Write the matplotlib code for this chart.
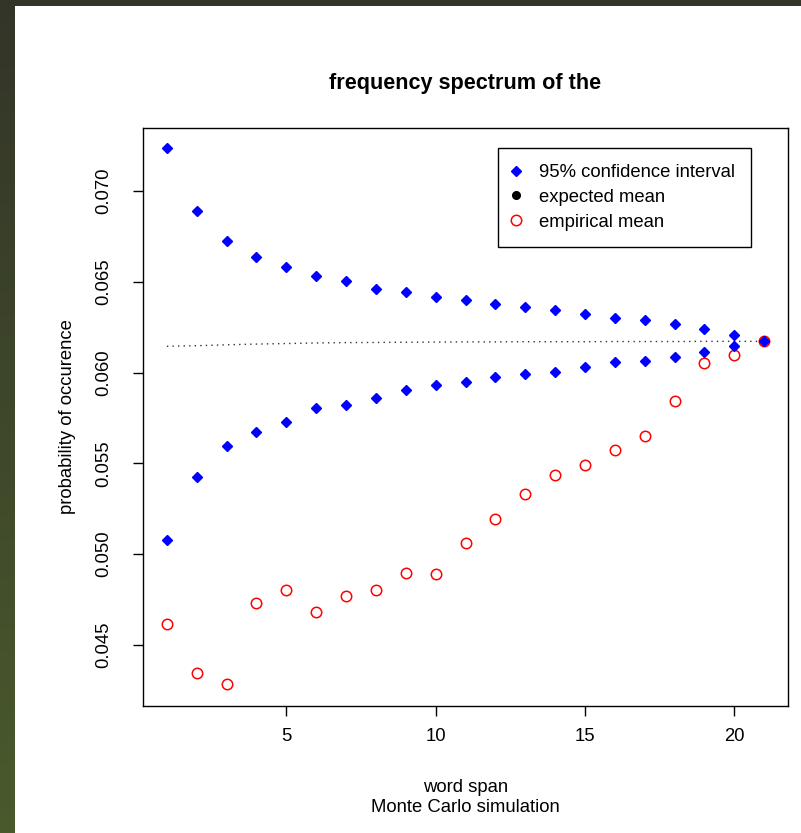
import numpy as np
import matplotlib
matplotlib.use("Agg")
import matplotlib.pyplot as plt
from matplotlib.patches import Rectangle
from matplotlib.lines import Line2D

plt.rcParams['font.family'] = ['Liberation Sans', 'DejaVu Sans']

# word span
span = list(range(1, 22))

# 95% confidence interval, upper and lower bound
ci_upper = [0.07237, 0.06890, 0.06724, 0.06636, 0.06581, 0.06531, 0.06503,
            0.06459, 0.06443, 0.06415, 0.06398, 0.06376, 0.06360, 0.06343,
            0.06321, 0.06299, 0.06288, 0.06266, 0.06238, 0.06205, 0.06172]
ci_lower = [0.05079, 0.05427, 0.05593, 0.05675, 0.05725, 0.05802, 0.05819,
            0.05858, 0.05902, 0.05929, 0.05946, 0.05973, 0.05990, 0.06001,
            0.06029, 0.06056, 0.06062, 0.06084, 0.06111, 0.06145, 0.06172]

# expected mean (dotted line)
expected = [0.06145, 0.06148, 0.06153, 0.06157, 0.06160, 0.06163, 0.06165,
            0.06166, 0.06167, 0.06168, 0.06169, 0.06169, 0.06170, 0.06170,
            0.06170, 0.06171, 0.06171, 0.06171, 0.06172, 0.06172, 0.06172]

# empirical mean
empirical = [0.04616, 0.04345, 0.04285, 0.04732, 0.04803, 0.04682, 0.04770,
             0.04803, 0.04897, 0.04892, 0.05063, 0.05195, 0.05333, 0.05438,
             0.05493, 0.05571, 0.05653, 0.05841, 0.06051, 0.06095, 0.06172]

W, H = 801, 833
FS = 13.3
fig = plt.figure(figsize=(W / 100, H / 100), dpi=100)

# dark olive backdrop with white panel
bg = fig.add_axes([0, 0, 1, 1], zorder=-10)
grad = np.linspace(0, 1, 256).reshape(-1, 1)
top = np.array([0x33, 0x35, 0x28]) / 255
bot = np.array([0x4a, 0x5a, 0x2d]) / 255
img = top + (bot - top) * grad[:, :, None]
bg.imshow(img, aspect='auto', extent=[0, 1, 0, 1], origin='upper')
bg.add_patch(Rectangle((15 / W, 0), 1 - 15 / W, (H - 6) / H,
                       facecolor='white', edgecolor='none'))
bg.set_xlim(0, 1)
bg.set_ylim(0, 1)
bg.axis('off')

ax = fig.add_axes([143 / W, 1 - 706 / H, (788 - 143) / W, (706 - 128) / H])
ax.set_facecolor('none')

ax.plot(span, expected, color='#333333', lw=1.0, linestyle=(0, (1, 3)))
ax.plot(span, empirical, 'o', mfc='none', mec='red', ms=7.5, mew=1.1)
ax.plot(span, ci_upper, 'D', color='blue', ms=5)
ax.plot(span, ci_lower, 'D', color='blue', ms=5)

ax.set_xlim(0.2, 21.8)
ax.set_ylim(0.04162, 0.07348)
ax.set_xticks([5, 10, 15, 20])
ax.set_yticks([0.045, 0.050, 0.055, 0.060, 0.065, 0.070])
ax.set_yticklabels(['0.045', '0.050', '0.055', '0.060', '0.065', '0.070'],
                   rotation=90, va='center')
ax.tick_params(length=7, width=1, labelsize=FS)
ax.tick_params(axis='x', pad=9)
ax.tick_params(axis='y', pad=15)
for s in ax.spines.values():
    s.set_linewidth(1)

handles = [
    Line2D([], [], marker='D', color='blue', ls='none', ms=5),
    Line2D([], [], marker='o', color='black', ls='none', ms=5.5),
    Line2D([], [], marker='o', mfc='none', mec='red', ls='none', ms=7.5, mew=1.1),
]
leg = ax.legend(handles, ['95% confidence interval', 'expected mean', 'empirical mean'],
                loc='upper right', bbox_to_anchor=(0.9426, 0.9654),
                fontsize=FS, frameon=True, fancybox=False, framealpha=1,
                edgecolor='black', labelspacing=0.42, handlelength=0.2,
                handletextpad=1.15, borderpad=0.87, borderaxespad=0)
leg.get_frame().set_linewidth(1)

fig.text((143 + 788) / 2 / W, 1 - 83 / H, 'frequency spectrum of the',
         ha='center', va='center', fontsize=15.6, fontweight='bold')
fig.text((143 + 788) / 2 / W, 1 - 787 / H, 'word span',
         ha='center', va='center', fontsize=FS)
fig.text((143 + 788) / 2 / W, 1 - 807 / H, 'Monte Carlo simulation',
         ha='center', va='center', fontsize=FS)
fig.text(67 / W, 1 - 417 / H, 'probability of occurence', rotation=90,
         ha='center', va='center', fontsize=FS)

fig.savefig('out.png', dpi=100)
